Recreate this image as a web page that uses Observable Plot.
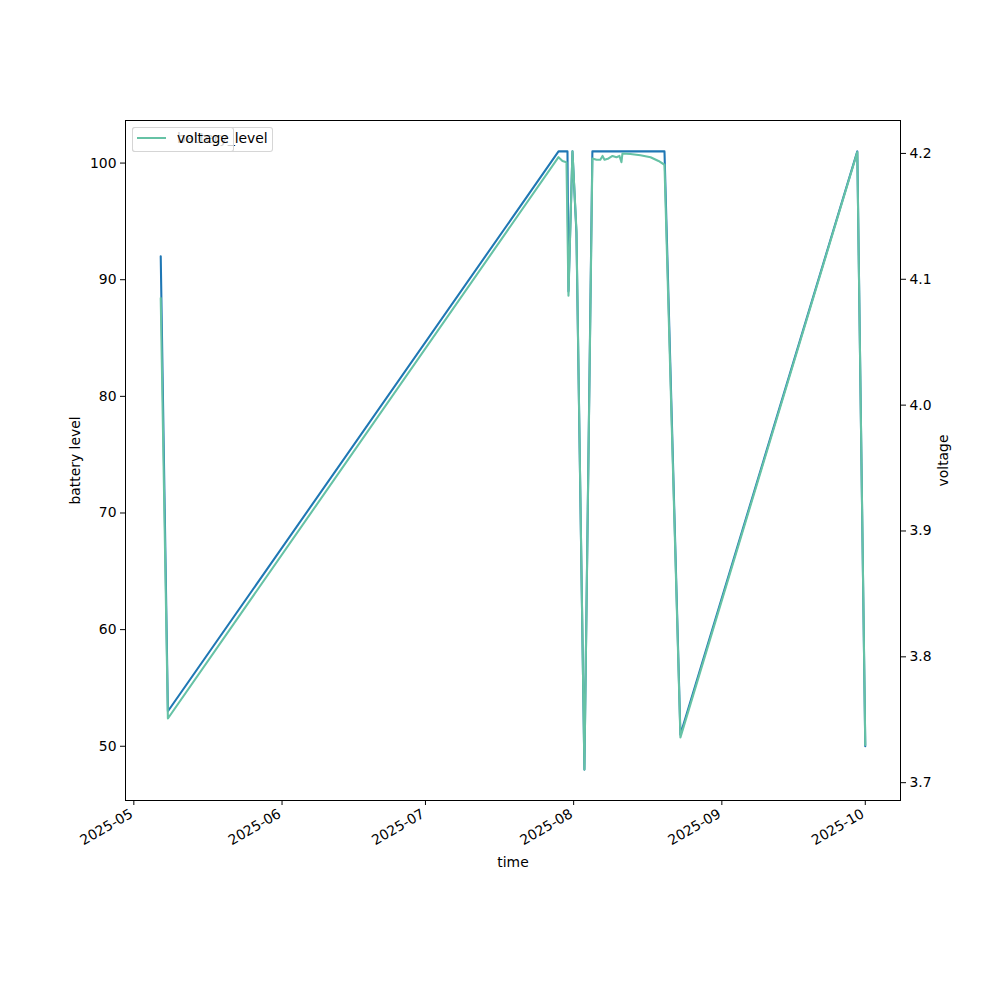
<!DOCTYPE html>
<html><head><meta charset="utf-8">
<script src="https://cdn.jsdelivr.net/npm/d3@7"></script>
<script src="https://cdn.jsdelivr.net/npm/@observablehq/plot@0.6"></script>
<style>
body{margin:0;background:#fff;font-family:"DejaVu Sans",sans-serif;}
#wrap{position:relative;width:1000px;height:1000px;}
.leg{position:absolute;left:132px;top:127px;height:25px;box-sizing:border-box;border:1px solid rgba(204,204,204,0.8);border-radius:3px;background:rgba(255,255,255,0.8);font-size:13.9px;}
.leg .ln{position:absolute;left:4px;top:9px;width:29px;height:2px;}
.leg .tx{position:absolute;left:44px;top:2px;line-height:17px;color:#000;white-space:nowrap;}
</style></head>
<body>
<div id="wrap"></div>
<script>
// ---- data ----
const batteryTimes = ["2025-05-06T15:00Z","2025-05-08T03:00Z","2025-07-28T20:00Z","2025-07-30T17:00Z","2025-07-30T22:00Z","2025-07-31T18:00Z","2025-08-01T14:00Z","2025-08-03T06:00Z","2025-08-04T22:00Z","2025-08-20T00:00Z","2025-08-23T08:00Z","2025-09-29T08:00Z","2025-10-01T00:00Z"];
const batteryValues = [92, 53, 101, 101, 89, 101, 94, 48, 101, 101, 51, 101, 50];

const voltageTimes = ["2025-05-06T15:00Z","2025-05-08T03:00Z","2025-07-28T20:00Z","2025-07-29T16:00Z","2025-07-30T12:00Z","2025-07-30T22:00Z","2025-07-31T18:00Z","2025-08-01T14:00Z","2025-08-03T06:00Z","2025-08-04T22:00Z","2025-08-05T19:00Z","2025-08-06T14:00Z","2025-08-07T01:00Z","2025-08-07T11:00Z","2025-08-08T07:00Z","2025-08-09T03:00Z","2025-08-09T23:00Z","2025-08-10T14:00Z","2025-08-11T00:00Z","2025-08-11T05:00Z","2025-08-12T21:00Z","2025-08-14T23:00Z","2025-08-17T02:00Z","2025-08-18T18:00Z","2025-08-20T00:00Z","2025-08-23T08:00Z","2025-09-29T08:00Z","2025-10-01T00:00Z"];
const voltageValues = [4.085, 3.751, 4.197, 4.194, 4.193, 4.087, 4.2016, 4.139, 3.7104, 4.196, 4.195, 4.195, 4.198, 4.195, 4.196, 4.198, 4.197, 4.198, 4.193, 4.200, 4.1995, 4.1985, 4.197, 4.194, 4.191, 3.736, 4.201, 3.730];

const batteryTicks = [50, 60, 70, 80, 90, 100];
const voltageTicks = [3.7, 3.8, 3.9, 4.0, 4.1, 4.2];
const monthTicks = ["2025-05-01","2025-06-01","2025-07-01","2025-08-01","2025-09-01","2025-10-01"];

const seriesNames = ["battery_level", "voltage"];
const seriesColors = ["#1f77b4", "#66c2a5"];

// ---- build ----
const battery = batteryTimes.map((t, i) => ({t: new Date(t), v: batteryValues[i]}));
const voltage = voltageTimes.map((t, i) => ({t: new Date(t), v: voltageValues[i]}));
const months = monthTicks.map(s => new Date(s + "T00:00Z"));

function padded(ext) { const r = ext[1] - ext[0]; return [ext[0] - 0.05 * r, ext[1] + 0.05 * r]; }
const allT = battery.concat(voltage).map(d => +d.t);
const [xLo, xHi] = padded(d3.extent(allT));
const [bLo, bHi] = padded(d3.extent(batteryValues));
const [vLo, vHi] = padded(d3.extent(voltageValues));
const toB = v => bLo + (v - vLo) / (vHi - vLo) * (bHi - bLo);
const fromB = b => vLo + (b - bLo) / (bHi - bLo) * (vHi - vLo);
const fmtMonth = d3.utcFormat("%Y-%m");

const FS = 13.9;
const chart = Plot.plot({
  width: 1000, height: 1000,
  marginLeft: 125, marginRight: 100, marginTop: 120, marginBottom: 200,
  style: {fontFamily: "DejaVu Sans", fontSize: FS + "px", background: "white", color: "black"},
  x: {type: "utc", domain: [new Date(xLo), new Date(xHi)]},
  y: {domain: [bLo, bHi]},
  marks: [
    Plot.line(battery, {x: "t", y: "v", stroke: seriesColors[0], strokeWidth: 2.08}),
    Plot.line(voltage, {x: "t", y: d => toB(d.v), stroke: seriesColors[1], strokeWidth: 2.08}),
    Plot.frame({strokeWidth: 1}),
    Plot.axisY({anchor: "left", ticks: batteryTicks, tickSize: 5, tickPadding: 4, label: null}),
    Plot.axisY({anchor: "right", ticks: voltageTicks.map(toB), tickFormat: d => fromB(d).toFixed(1), tickSize: 5, tickPadding: 4, label: null}),
    Plot.axisX({ticks: months, tickFormat: () => "", tickSize: 5, label: null}),
    Plot.text(months, {x: d => d, text: d => fmtMonth(d), frameAnchor: "bottom", dy: 16, dx: 0, rotate: -30, textAnchor: "end", lineAnchor: "bottom", fontSize: FS}),
    Plot.text(["battery level"], {text: d => d, frameAnchor: "left", dx: -50, rotate: -90, textAnchor: "middle", lineAnchor: "middle", fontSize: FS}),
    Plot.text(["voltage"], {text: d => d, frameAnchor: "right", dx: 43, rotate: -90, textAnchor: "middle", lineAnchor: "middle", fontSize: FS}),
    Plot.text(["time"], {text: d => d, frameAnchor: "bottom", dy: 66, fontSize: FS})
  ]
});
const wrap = document.getElementById("wrap");
wrap.appendChild(chart);

// legends (two overlapping, as in the reference)
const widths = [141, 102];
seriesNames.forEach((name, i) => {
  const box = document.createElement("div");
  box.className = "leg";
  box.style.width = widths[i] + "px";
  const ln = document.createElement("div");
  ln.className = "ln"; ln.style.background = seriesColors[i];
  const tx = document.createElement("div");
  tx.className = "tx"; tx.textContent = name;
  box.appendChild(ln); box.appendChild(tx);
  wrap.appendChild(box);
});
</script>
</body></html>
